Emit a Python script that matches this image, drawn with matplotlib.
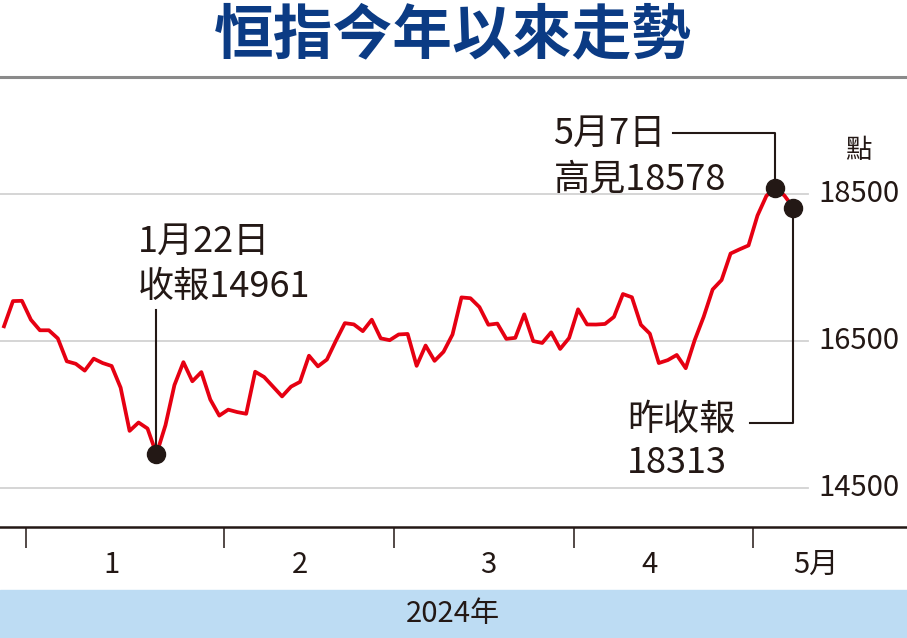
import matplotlib
matplotlib.use('Agg')
import matplotlib.pyplot as plt
from matplotlib.lines import Line2D
from matplotlib.patches import Rectangle
from matplotlib.transforms import IdentityTransform

plt.rcParams['font.family'] = ['Noto Sans CJK TC', 'DejaVu Sans']

# trading days (day of month) per month, Dec 2023 - May 2024
dec_days = [27, 28, 29]
jan_days = [2, 3, 4, 5, 8, 9, 10, 11, 12, 15, 16, 17, 18, 19, 22, 23, 24, 25, 26, 29, 30, 31]
feb_days = [1, 2, 5, 6, 7, 8, 9, 14, 15, 16, 19, 20, 21, 22, 23, 26, 27, 28, 29]
mar_days = [1, 4, 5, 6, 7, 8, 11, 12, 13, 14, 15, 18, 19, 20, 21, 22, 25, 26, 27, 28]
apr_days = [2, 3, 5, 8, 9, 10, 11, 12, 15, 16, 17, 18, 19, 22, 23, 24, 25, 26, 29, 30]
may_days = [2, 3, 6, 7, 8]

# Hang Seng index closes
dec_close = [16700, 17043, 17047]
jan_close = [16789, 16646, 16646, 16535, 16224, 16190, 16097, 16260, 16200, 16160, 15866,
             15277, 15391, 15309, 14961, 15354, 15900, 16212, 15952, 16077, 15703, 15485]
feb_close = [15566, 15533, 15510, 16082, 16010, 15878, 15746, 15879, 15944, 16300, 16155,
             16248, 16503, 16743, 16726, 16634, 16790, 16536, 16511]
mar_close = [16589, 16596, 16162, 16438, 16230, 16353, 16588, 17093, 17082, 16962, 16721,
             16737, 16529, 16543, 16863, 16499, 16473, 16618, 16392, 16541]
apr_close = [16931, 16725, 16724, 16732, 16828, 17139, 17095, 16721, 16600, 16200, 16240,
             16310, 16130, 16512, 16829, 17201, 17330, 17690, 17747, 17800]
may_close = [18207, 18476, 18578, 18479, 18314]

month_labels = ['1', '2', '3', '4', '5月']
y_ticks = [14500, 16500, 18500]

title = '恒指今年以來走勢'
low_text = ['1月22日', '收報14961']
high_text = ['5月7日', '高見18578']
last_text = ['昨收報', '18313']

month_days = [dec_days, jan_days, feb_days, mar_days, apr_days, may_days]
closes = dec_close + jan_close + feb_close + mar_close + apr_close + may_close
x = list(range(len(closes)))

# month start positions and label positions (mid month)
bounds, label_pos = [], []
start = 0
for k, d in enumerate(month_days):
    if k > 0:
        bounds.append(start - 0.5)
        mid = [start + j for j, day in enumerate(d) if day >= 15]
        label_pos.append(mid[0] if mid else start + len(d) + 1.5)
    start += len(d)

W, H = 907, 638
fig = plt.figure(figsize=(W / 100, H / 100), dpi=100)

# axis frame in pixels
ax_top, ax_bot = 90, 527
ax = fig.add_axes([0, 1 - ax_bot / H, 1, (ax_bot - ax_top) / H])
ppv = 147 / 2000.0   # pixels per index point
y0 = 16500 - (ax_bot - 341) / ppv
y1 = 16500 + (341 - ax_top) / ppv
dx = 8.97
ax.set_xlim(-4 / dx, (W - 4) / dx)
ax.set_ylim(y0, y1)

for s in ['top', 'left', 'right']:
    ax.spines[s].set_visible(False)
ax.spines['bottom'].set_linewidth(1.8)
ax.spines['bottom'].set_color('#231815')
ax.set_yticks([])
ax.set_xticks(bounds)
ax.tick_params(axis='x', length=15, width=1.1, color='#231815', labelbottom=False)

for v in y_ticks:
    ax.axhline(v, xmin=0, xmax=808 / W, color='#d2d2d2', lw=1.3, zorder=1)
    ax.text(818 / W, v, f'{v}', transform=ax.get_yaxis_transform(), ha='left',
            va='center', fontsize=21, color='#231815')

for p, lab in zip(label_pos, month_labels):
    ax.text(p, -0.087, lab, transform=ax.get_xaxis_transform(), ha='center',
            va='center', fontsize=21, color='#231815')

ax.plot(x, closes, color='#e60012', lw=2.7, zorder=3)

i_low = closes.index(min(closes))
i_high = closes.index(max(closes))
i_last = len(closes) - 1
for i in [i_low, i_high, i_last]:
    ax.plot(x[i], closes[i], 'o', ms=13, color='#231815', zorder=5)


def leader(i, pts):
    X, Y = ax.transData.transform((x[i], closes[i]))
    xs = [X + a for a, b in pts]
    ys = [Y + b for a, b in pts]
    fig.add_artist(Line2D(xs, ys, transform=IdentityTransform(), color='#231815',
                          lw=1.5, zorder=4))


leader(i_high, [(0, 0), (0, 55), (-102, 55)])
leader(i_low, [(0, 0), (0, 144)])
leader(i_last, [(0, 0), (0, -215), (-43, -215)])


def label(i, lines, ox, oys, size=26):
    for txt, oy in zip(lines, oys):
        ax.annotate(txt, xy=(x[i], closes[i]), xytext=(ox, oy), textcoords='offset pixels',
                    ha='left', va='center', fontsize=size, color='#231815',
                    annotation_clip=False)


label(i_high, high_text, -222, [54, 9])
label(i_low, low_text, -19, [212, 167])
label(i_last, last_text, -166, [-212, -255])

fig.text(858 / W, 1 - 150 / H, '點', ha='center', va='center', fontsize=19, color='#231815')

# title and top rule
fig.text(453 / W, 1 - 36 / H, title, ha='center', va='center', fontsize=43,
         fontweight='bold', color='#0b3b84')
fig.add_artist(Line2D([0, 1], [1 - 77 / H] * 2, transform=fig.transFigure,
                      color='#8a8a8a', lw=2.2))

# bottom band
fig.add_artist(Rectangle((0, 0), 1, 48 / H, transform=fig.transFigure,
                         color='#bddcf3', zorder=0))
fig.text(453 / W, 1 - 614 / H, '2024年', ha='center', va='center', fontsize=21,
         color='#231815')

fig.savefig('out.png', dpi=100)
